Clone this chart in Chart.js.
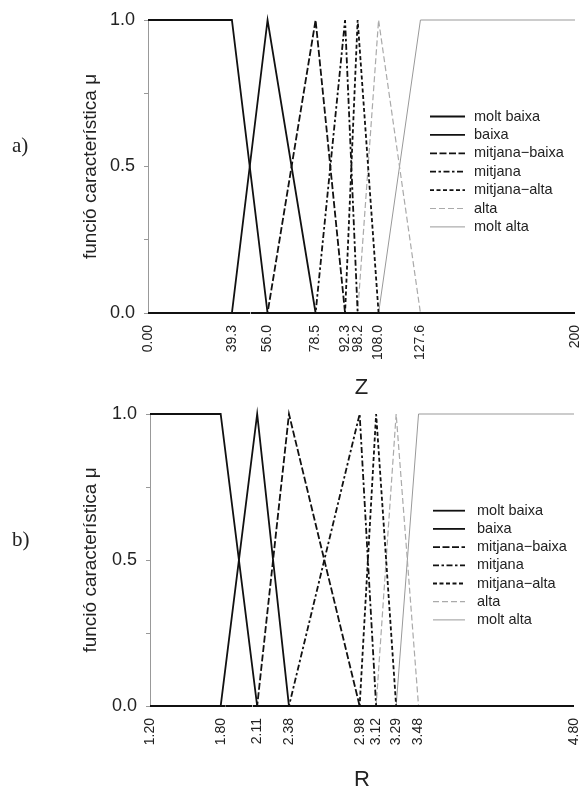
<!DOCTYPE html>
<html><head><meta charset="utf-8">
<script src="https://cdn.jsdelivr.net/npm/chart.js@4"></script>
<style>
html,body{margin:0;padding:0;background:#fff;width:580px;height:789px;overflow:hidden;}
#wrap{position:relative;width:580px;height:789px;overflow:hidden;}
canvas{position:absolute;left:0;}
#ca{top:0;}
#cb{top:394px;}
.pl{position:absolute;font-family:"Liberation Serif","Times New Roman",serif;font-size:21px;line-height:21px;color:#222;}
</style></head><body>
<div id="wrap">
<canvas id="ca" width="580" height="399"></canvas>
<canvas id="cb" width="580" height="397"></canvas>
<div class="pl" style="left:12px;top:135px">a)</div>
<div class="pl" style="left:12px;top:529px">b)</div>
</div>
<script>
// ---- shared ----
const seriesNames = ['molt baixa','baixa','mitjana\u2212baixa','mitjana','mitjana\u2212alta','alta','molt alta'];
const yTicks = [0, 0.25, 0.5, 0.75, 1];
const yTickLabels = ['0.0', '', '0.5', '', '1.0'];
const yTitle = 'funció característica μ';
const lowMu  = [1, 1, 0, 0];
const triMu  = [0, 0, 1, 0, 0];
const highMu = [0, 0, 1, 1];

// ---- panel a) Z ----
const zTicks = [0, 39.3, 56.0, 78.5, 92.3, 98.2, 108.0, 127.6, 200];
const zTickLabels = ['0.00','39.3','56.0','78.5','92.3','98.2','108.0','127.6','200'];
const zMoltBaixa    = [0, 39.3, 56.0, 200];
const zBaixa        = [0, 39.3, 56.0, 78.5, 200];
const zMitjanaBaixa = [0, 56.0, 78.5, 92.3, 200];
const zMitjana      = [0, 78.5, 92.3, 98.2, 200];
const zMitjanaAlta  = [0, 92.3, 98.2, 108.0, 200];
const zAlta         = [0, 98.2, 108.0, 127.6, 200];
const zMoltAlta     = [0, 108.0, 127.6, 200];

// ---- panel b) R ----
const rTicks = [1.20, 1.80, 2.11, 2.38, 2.98, 3.12, 3.29, 3.48, 4.80];
const rTickLabels = ['1.20','1.80','2.11','2.38','2.98','3.12','3.29','3.48','4.80'];
const rMoltBaixa    = [1.20, 1.80, 2.11, 4.80];
const rBaixa        = [1.20, 1.80, 2.11, 2.38, 4.80];
const rMitjanaBaixa = [1.20, 2.11, 2.38, 2.98, 4.80];
const rMitjana      = [1.20, 2.38, 2.98, 3.12, 4.80];
const rMitjanaAlta  = [1.20, 2.98, 3.12, 3.29, 4.80];
const rAlta         = [1.20, 3.12, 3.29, 3.48, 4.80];
const rMoltAlta     = [1.20, 3.29, 3.48, 4.80];

const styles = [
  {color:'#111', width:1.8, dash:[]},
  {color:'#111', width:1.8, dash:[]},
  {color:'#111', width:1.8, dash:[7,2.5]},
  {color:'#111', width:1.8, dash:[6,2.5,2.5,2.5]},
  {color:'#111', width:1.8, dash:[4,2.5]},
  {color:'#aaa', width:1.2, dash:[6,3]},
  {color:'#999', width:1.0, dash:[]}
];

Chart.defaults.font.family = '"Liberation Sans", Arial, Helvetica, sans-serif';
Chart.defaults.color = '#222';

const insideLegend = {
  id: 'insideLegend',
  afterDatasetsDraw(chart, args, o) {
    const ctx = chart.ctx;
    ctx.save();
    ctx.font = o.fontSize + 'px "Liberation Sans", Arial, sans-serif';
    ctx.textBaseline = 'middle';
    ctx.textAlign = 'left';
    chart.data.datasets.forEach((ds, i) => {
      const y = o.top + i * o.rowH;
      ctx.beginPath();
      ctx.setLineDash(ds.borderDash || []);
      ctx.strokeStyle = ds.borderColor;
      ctx.lineWidth = ds.borderWidth;
      ctx.moveTo(o.x0, y); ctx.lineTo(o.x1, y);
      ctx.stroke();
      ctx.setLineDash([]);
      ctx.fillStyle = '#222';
      ctx.fillText(ds.label, o.tx, y);
    });
    ctx.restore();
  }
};

function buildDatasets(xs, mus) {
  return xs.map((xArr, k) => ({
    label: seriesNames[k],
    data: xArr.map((x, j) => ({x: x, y: mus[k][j]})),
    borderColor: styles[k].color,
    borderWidth: styles[k].width,
    borderDash: styles[k].dash,
    pointRadius: 0,
    tension: 0,
    fill: false,
    clip: false
  }));
}

function makeChart(id, p) {
  const canvas = document.getElementById(id);
  const H = canvas.height;
  return new Chart(canvas, {
    type: 'line',
    data: { datasets: buildDatasets(p.xs, [lowMu, triMu, triMu, triMu, triMu, triMu, highMu]) },
    plugins: [insideLegend],
    options: {
      responsive: false,
      animation: false,
      devicePixelRatio: 1,
      layout: { padding: { left: 0, right: 580 - p.right, top: p.top, bottom: 0 } },
      plugins: {
        legend: { display: false },
        tooltip: { enabled: false },
        insideLegend: p.legend
      },
      scales: {
        x: {
          type: 'linear', min: p.min, max: p.max,
          afterBuildTicks(s) { s.ticks = p.ticks.map(v => ({value: v})); },
          afterFit(s) { s.height = H - p.bottom; s.paddingLeft = 0; s.paddingRight = 0; },
          ticks: { autoSkip: false, minRotation: 90, maxRotation: 90, padding: 12,
                   font: { size: 14 }, color: '#222',
                   callback: (v, i) => p.tickLabels[i] },
          grid: { display: false, drawTicks: false },
          border: { display: false },
          title: { display: true, text: p.title, font: { size: 22, lineHeight: 1 }, color: '#222',
                   padding: { top: 0, bottom: 0 } }
        },
        y: {
          type: 'linear', min: 0, max: 1,
          afterBuildTicks(s) { s.ticks = yTicks.map(v => ({value: v})); },
          afterFit(s) { s.width = p.left; s.paddingTop = 0; s.paddingBottom = 0; },
          ticks: { autoSkip: false, padding: 9, font: { size: 18 }, color: '#222',
                   callback: (v, i) => yTickLabels[i] },
          grid: { drawOnChartArea: false, drawTicks: true, tickLength: 4, color: '#999' },
          border: { display: true, color: '#999', width: 1 },
          title: { display: true, text: yTitle, font: { size: 19 }, color: '#222',
                   padding: { top: 79, bottom: 0 } }
        }
      }
    }
  });
}

makeChart('ca', {
  xs: [zMoltBaixa, zBaixa, zMitjanaBaixa, zMitjana, zMitjanaAlta, zAlta, zMoltAlta],
  ticks: zTicks, tickLabels: zTickLabels, min: 0, max: 200, title: 'Z',
  left: 148, right: 575, top: 20, bottom: 313,
  legend: { x0: 430, x1: 465, tx: 474, top: 116.5, rowH: 18.4, fontSize: 14.5 }
});
makeChart('cb', {
  xs: [rMoltBaixa, rBaixa, rMitjanaBaixa, rMitjana, rMitjanaAlta, rAlta, rMoltAlta],
  ticks: rTicks, tickLabels: rTickLabels, min: 1.2, max: 4.8, title: 'R',
  left: 150, right: 574, top: 20, bottom: 312,
  legend: { x0: 433, x1: 465, tx: 477, top: 116.7, rowH: 18.2, fontSize: 14.5 }
});
</script>
</body></html>
